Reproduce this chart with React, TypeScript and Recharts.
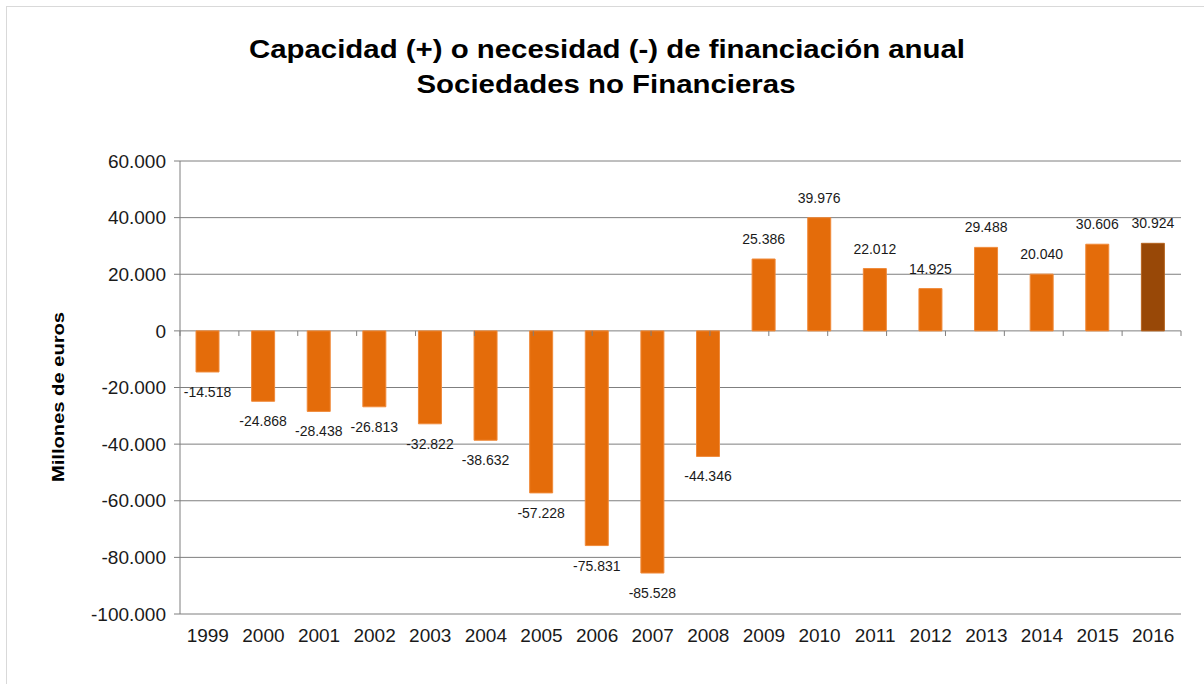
import { BarChart, Bar, XAxis, YAxis, CartesianGrid, ReferenceLine, LabelList, Cell } from 'recharts';

const years = ['1999', '2000', '2001', '2002', '2003', '2004', '2005', '2006', '2007', '2008', '2009', '2010', '2011', '2012', '2013', '2014', '2015', '2016'];
const valores = [-14518, -24868, -28438, -26813, -32822, -38632, -57228, -75831, -85528, -44346, 25386, 39976, 22012, 14925, 29488, 20040, 30606, 30924];
const yTicks = [-100000, -80000, -60000, -40000, -20000, 0, 20000, 40000, 60000];
const boundaries = Array.from({ length: years.length + 1 }, (_, i) => i);

const data = years.map((year, i) => ({ year, valor: valores[i] }));

const FONT = '"Liberation Sans", Arial, sans-serif';
const ORANGE = '#E46C0A';
const DARK = '#984807';
const GRID = '#7f7f7f';

const fmt = (v: number) => (v < 0 ? '-' : '') + String(Math.abs(v)).replace(/\B(?=(\d{3})+(?!\d))/g, '.');

// etiqueta encima (positivos) o debajo (negativos) de la barra
function BarLabel(props: any) {
    const { x, y, width, height, value } = props;
    const top = Math.min(y, y + height);
    const bottom = Math.max(y, y + height);
    const ty = value >= 0 ? top - 15 : bottom + 25;
    return (
        <text x={x + width / 2} y={ty} textAnchor="middle" fontSize={14} fontFamily={FONT} fill="#1a1a1a">
            {fmt(value)}
        </text>
    );
}

export default function App() {
    return (
        <div style={{ position: 'absolute', left: 0, top: 0, width: 1204, height: 684, background: '#fff', overflow: 'hidden' }}>
            <div style={{ position: 'absolute', left: 6, top: 6, width: 1198, height: 678, borderTop: '1px solid #d9d9d9', borderLeft: '1px solid #d9d9d9', boxSizing: 'border-box' }} />
            <BarChart
                width={1204}
                height={684}
                data={data}
                margin={{ top: 161, right: 23, bottom: 10, left: 10 }}
                barSize={23}
                style={{ position: 'absolute', left: 0, top: 0 }}
            >
                <CartesianGrid vertical={false} stroke={GRID} strokeWidth={1} />
                <XAxis
                    dataKey="year"
                    interval={0}
                    axisLine={false}
                    tickLine={false}
                    tickSize={0}
                    tickMargin={15}
                    height={60}
                    tick={{ fill: '#1a1a1a', fontSize: 19, fontFamily: FONT }}
                />
                <XAxis xAxisId="b" type="number" domain={[0, years.length]} hide />
                <YAxis
                    width={170}
                    domain={[-100000, 60000]}
                    ticks={yTicks}
                    tickFormatter={fmt}
                    axisLine={{ stroke: GRID }}
                    tickLine={{ stroke: GRID }}
                    tickSize={6}
                    tickMargin={8}
                    tick={{ fill: '#1a1a1a', fontSize: 19, fontFamily: FONT }}
                />
                {boundaries.map((b) => (
                    <ReferenceLine
                        key={b}
                        xAxisId="b"
                        segment={[{ x: b, y: 0 }, { x: b, y: -1800 }]}
                        stroke={GRID}
                        ifOverflow="visible"
                    />
                ))}
                <Bar dataKey="valor" isAnimationActive={false} strokeWidth={1}>
                    {data.map((d, i) => (
                        <Cell
                            key={d.year}
                            fill={i === data.length - 1 ? DARK : ORANGE}
                            stroke={i === data.length - 1 ? '#B5631F' : '#F08A3A'}
                        />
                    ))}
                    <LabelList dataKey="valor" content={<BarLabel />} />
                </Bar>
            </BarChart>
            <svg width={1204} height={684} style={{ position: 'absolute', left: 0, top: 0, pointerEvents: 'none' }}>
                <text x={607} y={58} textAnchor="middle" fontSize={25} fontWeight="bold" fontFamily={FONT} fill="#000" textLength={716} lengthAdjust="spacingAndGlyphs">
                    Capacidad (+) o necesidad (-) de financiación anual
                </text>
                <text x={606} y={93} textAnchor="middle" fontSize={25} fontWeight="bold" fontFamily={FONT} fill="#000" textLength={379} lengthAdjust="spacingAndGlyphs">
                    Sociedades no Financieras
                </text>
                <text
                    x={0}
                    y={0}
                    transform="translate(64 397) rotate(-90)"
                    textAnchor="middle"
                    fontSize={16}
                    fontWeight="bold"
                    fontFamily={FONT}
                    fill="#000"
                    textLength={170}
                    lengthAdjust="spacingAndGlyphs"
                >
                    Millones de euros
                </text>
            </svg>
        </div>
    );
}
